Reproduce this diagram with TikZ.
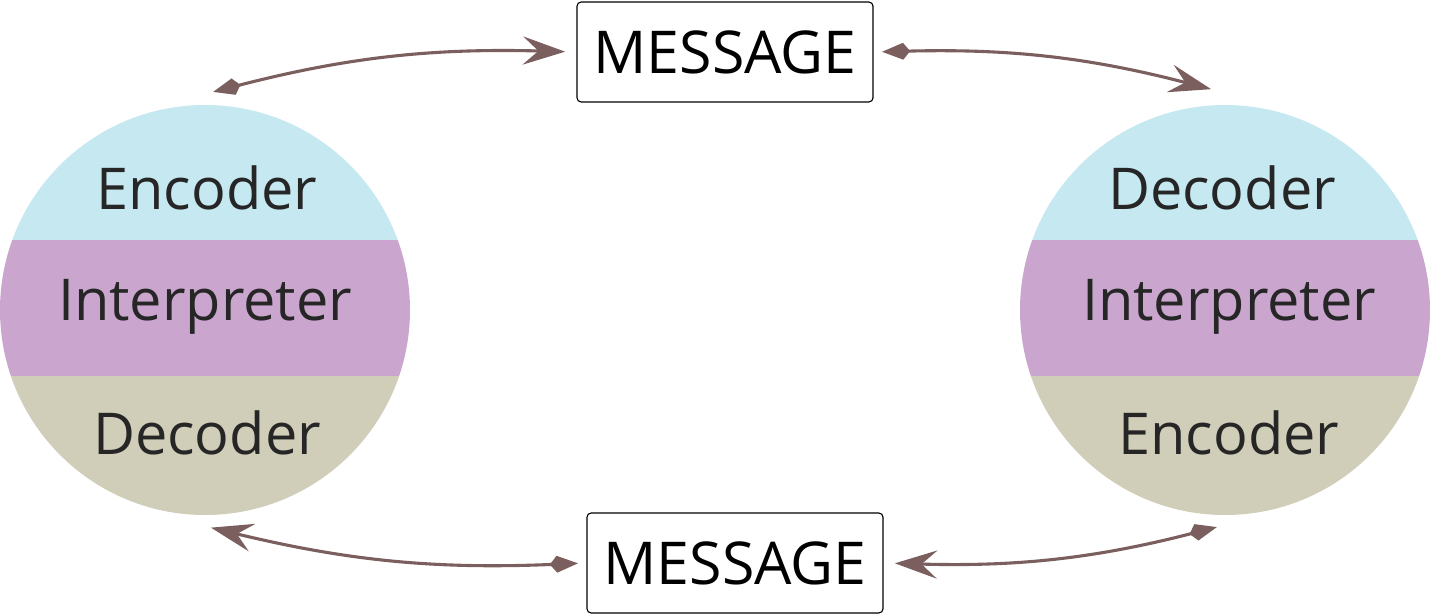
\documentclass[tikz,border=0pt]{standalone}
\usepackage{fontspec}
\setmainfont{Open Sans}
\usetikzlibrary{arrows.meta}
\definecolor{bandblue}{HTML}{C6E8F1}
\definecolor{bandpurple}{HTML}{CAA6CF}
\definecolor{bandbeige}{HTML}{D0CDB9}
\definecolor{arrowbrown}{HTML}{7B5E5E}
\tikzset{
  msgbox/.style={draw, thick, rounded corners=3pt, minimum width=7.4cm, minimum height=2.5cm, font=\fontsize{42}{46}\selectfont},
  bandtext/.style={font=\fontsize{41}{45}\selectfont, text=black!85},
  flow/.style={arrowbrown, line width=2.2pt, shorten >=8pt, shorten <=6pt,
    {Kite[length=20pt,width=12pt,inset=5pt]}-{Stealth[length=30pt,width=20pt,inset=11pt]}}
}
\begin{document}
\begin{tikzpicture}[x=0.025cm,y=-0.025cm]
  \useasboundingbox (0,0) rectangle (1430,616);
  % two people
  \begin{scope}
    \clip (205,310) circle [radius=205];
    \fill[bandblue] (0,100) rectangle (410,240);
    \fill[bandpurple] (0,240) rectangle (410,376);
    \fill[bandbeige] (0,376) rectangle (410,520);
  \end{scope}
  \begin{scope}
    \clip (1225,310) circle [radius=205];
    \fill[bandblue] (1020,100) rectangle (1430,240);
    \fill[bandpurple] (1020,240) rectangle (1430,376);
    \fill[bandbeige] (1020,376) rectangle (1430,520);
  \end{scope}
  \node[bandtext] (lenc) at (207,188) {Encoder};
  \node[bandtext] (lint) at (205,307) {Interpreter};
  \node[bandtext] (ldec) at (207,433) {Decoder};
  \node[bandtext] (rdec) at (1222,188) {Decoder};
  \node[bandtext] (rint) at (1229,307) {Interpreter};
  \node[bandtext] (renc) at (1229,433) {Encoder};
  \node[msgbox] (msgtop) at (725,52) {MESSAGE};
  \node[msgbox] (msgbot) at (735,563) {MESSAGE};
  \coordinate (ltop) at (205,94);
  \coordinate (rtop) at (1222,92);
  \coordinate (rbot) at (1225,525);
  \coordinate (lbot) at (200,525);
  \draw[flow] (ltop) to[bend left=8] (msgtop.west);
  \draw[flow] (msgtop.east) to[bend left=8] (rtop);
  \draw[flow] (rbot) to[bend left=8] (msgbot.east);
  \draw[flow] (msgbot.west) to[bend left=8] (lbot);
\end{tikzpicture}
\end{document}
